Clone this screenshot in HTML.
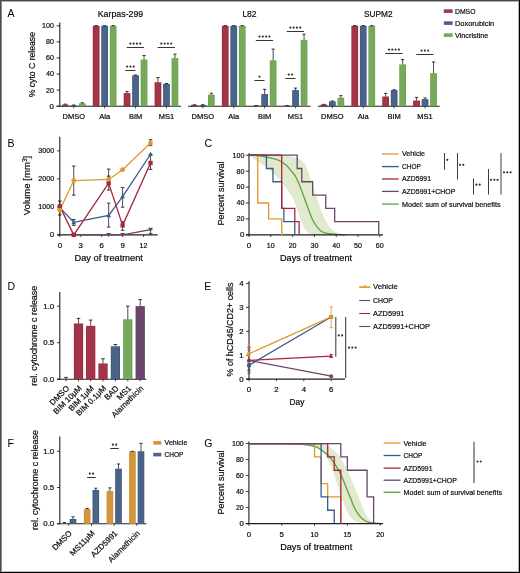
<!DOCTYPE html><html><head><meta charset="utf-8"><style>html,body{margin:0;padding:0;background:#fff;}svg{display:block;will-change:transform;}text{font-family:"Liberation Sans",sans-serif;stroke:#231f20;stroke-width:0.22px;}</style></head><body>
<svg width="520" height="573" viewBox="0 0 520 573">
<rect x="0" y="0" width="520" height="573" fill="#fff"/>
<text x="7.6" y="17.3" font-size="10.5" style="stroke:none">A</text>
<text x="7.6" y="147" font-size="10.5" style="stroke:none">B</text>
<text x="204.4" y="146.8" font-size="10.5" style="stroke:none">C</text>
<text x="7.6" y="289.5" font-size="10.5" style="stroke:none">D</text>
<text x="204.2" y="289.6" font-size="10.5" style="stroke:none">E</text>
<text x="7.6" y="446.6" font-size="10.5" style="stroke:none">F</text>
<text x="204.2" y="447" font-size="10.5" style="stroke:none">G</text>
<line x1="59.8" y1="22.6" x2="59.8" y2="106.7" stroke="#1e1e1e" stroke-width="1.1"/>
<line x1="56.6" y1="106.2" x2="59.8" y2="106.2" stroke="#1e1e1e" stroke-width="0.9"/>
<text x="53.9" y="108.6" font-size="7.8" text-anchor="end">0</text>
<line x1="56.6" y1="90.12" x2="59.8" y2="90.12" stroke="#1e1e1e" stroke-width="0.9"/>
<text x="53.9" y="92.52" font-size="7.8" text-anchor="end" textLength="7.9" lengthAdjust="spacingAndGlyphs">20</text>
<line x1="56.6" y1="74.04" x2="59.8" y2="74.04" stroke="#1e1e1e" stroke-width="0.9"/>
<text x="53.9" y="76.44" font-size="7.8" text-anchor="end" textLength="7.9" lengthAdjust="spacingAndGlyphs">40</text>
<line x1="56.6" y1="57.96" x2="59.8" y2="57.96" stroke="#1e1e1e" stroke-width="0.9"/>
<text x="53.9" y="60.36" font-size="7.8" text-anchor="end" textLength="7.9" lengthAdjust="spacingAndGlyphs">60</text>
<line x1="56.6" y1="41.88" x2="59.8" y2="41.88" stroke="#1e1e1e" stroke-width="0.9"/>
<text x="53.9" y="44.28" font-size="7.8" text-anchor="end" textLength="7.9" lengthAdjust="spacingAndGlyphs">80</text>
<line x1="56.6" y1="25.8" x2="59.8" y2="25.8" stroke="#1e1e1e" stroke-width="0.9"/>
<text x="53.9" y="28.2" font-size="7.8" text-anchor="end" textLength="11.85" lengthAdjust="spacingAndGlyphs">100</text>
<text x="34.6" y="64.65" font-size="9.5" text-anchor="middle" textLength="65.3" lengthAdjust="spacingAndGlyphs" transform="rotate(-90 34.6 64.65)">% cyto C release</text>
<line x1="56.6" y1="106.2" x2="181.1" y2="106.2" stroke="#1e1e1e" stroke-width="1.1"/>
<rect x="61.9" y="104.59" width="6.7" height="1.61" fill="#962036"/>
<rect x="62.5" y="105.19" width="5.5" height="1.01" fill="#a43447"/>
<line x1="65.25" y1="104.59" x2="65.25" y2="104.11" stroke="#1e1e1e" stroke-width="0.8"/>
<line x1="63.65" y1="104.11" x2="66.85" y2="104.11" stroke="#1e1e1e" stroke-width="0.9"/>
<rect x="70.4" y="105.4" width="6.7" height="0.8" fill="#3b557c"/>
<line x1="73.75" y1="105.4" x2="73.75" y2="104.99" stroke="#1e1e1e" stroke-width="0.8"/>
<line x1="72.15" y1="104.99" x2="75.35" y2="104.99" stroke="#1e1e1e" stroke-width="0.9"/>
<rect x="78.9" y="103.39" width="6.7" height="2.81" fill="#67a04a"/>
<rect x="79.5" y="103.99" width="5.5" height="2.21" fill="#78a85b"/>
<line x1="82.25" y1="103.39" x2="82.25" y2="102.82" stroke="#1e1e1e" stroke-width="0.8"/>
<line x1="80.65" y1="102.82" x2="83.85" y2="102.82" stroke="#1e1e1e" stroke-width="0.9"/>
<line x1="73.75" y1="106.2" x2="73.75" y2="108.4" stroke="#1e1e1e" stroke-width="0.8"/>
<text x="73.75" y="118.9" font-size="7.5" text-anchor="middle">DMSO</text>
<rect x="92.8" y="25.8" width="6.7" height="80.4" fill="#962036"/>
<rect x="93.4" y="26.4" width="5.5" height="79.8" fill="#a43447"/>
<line x1="96.15" y1="25.8" x2="96.15" y2="25.64" stroke="#1e1e1e" stroke-width="0.8"/>
<line x1="94.55" y1="25.64" x2="97.75" y2="25.64" stroke="#1e1e1e" stroke-width="0.9"/>
<rect x="101.3" y="25.8" width="6.7" height="80.4" fill="#3b557c"/>
<rect x="101.9" y="26.4" width="5.5" height="79.8" fill="#4a6386"/>
<line x1="104.65" y1="25.8" x2="104.65" y2="25.64" stroke="#1e1e1e" stroke-width="0.8"/>
<line x1="103.05" y1="25.64" x2="106.25" y2="25.64" stroke="#1e1e1e" stroke-width="0.9"/>
<rect x="109.8" y="25.8" width="6.7" height="80.4" fill="#67a04a"/>
<rect x="110.4" y="26.4" width="5.5" height="79.8" fill="#78a85b"/>
<line x1="113.15" y1="25.8" x2="113.15" y2="25.64" stroke="#1e1e1e" stroke-width="0.8"/>
<line x1="111.55" y1="25.64" x2="114.75" y2="25.64" stroke="#1e1e1e" stroke-width="0.9"/>
<line x1="104.65" y1="106.2" x2="104.65" y2="108.4" stroke="#1e1e1e" stroke-width="0.8"/>
<text x="104.65" y="118.9" font-size="7.5" text-anchor="middle">Ala</text>
<rect x="123.7" y="93.14" width="6.7" height="13.07" fill="#962036"/>
<rect x="124.3" y="93.73" width="5.5" height="12.47" fill="#a43447"/>
<line x1="127.05" y1="93.14" x2="127.05" y2="91.53" stroke="#1e1e1e" stroke-width="0.8"/>
<line x1="125.45" y1="91.53" x2="128.65" y2="91.53" stroke="#1e1e1e" stroke-width="0.9"/>
<rect x="132.2" y="75.33" width="6.7" height="30.87" fill="#3b557c"/>
<rect x="132.8" y="75.93" width="5.5" height="30.27" fill="#4a6386"/>
<line x1="135.55" y1="75.33" x2="135.55" y2="75" stroke="#1e1e1e" stroke-width="0.8"/>
<line x1="133.95" y1="75" x2="137.15" y2="75" stroke="#1e1e1e" stroke-width="0.9"/>
<rect x="140.7" y="59.57" width="6.7" height="46.63" fill="#67a04a"/>
<rect x="141.3" y="60.17" width="5.5" height="46.03" fill="#78a85b"/>
<line x1="144.05" y1="59.57" x2="144.05" y2="55.55" stroke="#1e1e1e" stroke-width="0.8"/>
<line x1="142.45" y1="55.55" x2="145.65" y2="55.55" stroke="#1e1e1e" stroke-width="0.9"/>
<line x1="135.55" y1="106.2" x2="135.55" y2="108.4" stroke="#1e1e1e" stroke-width="0.8"/>
<text x="135.55" y="118.9" font-size="7.5" text-anchor="middle">BIM</text>
<rect x="154.6" y="82.32" width="6.7" height="23.88" fill="#962036"/>
<rect x="155.2" y="82.92" width="5.5" height="23.28" fill="#a43447"/>
<line x1="157.95" y1="82.32" x2="157.95" y2="77.5" stroke="#1e1e1e" stroke-width="0.8"/>
<line x1="156.35" y1="77.5" x2="159.55" y2="77.5" stroke="#1e1e1e" stroke-width="0.9"/>
<rect x="163.1" y="83.85" width="6.7" height="22.35" fill="#3b557c"/>
<rect x="163.7" y="84.45" width="5.5" height="21.75" fill="#4a6386"/>
<line x1="166.45" y1="83.85" x2="166.45" y2="83.53" stroke="#1e1e1e" stroke-width="0.8"/>
<line x1="164.85" y1="83.53" x2="168.05" y2="83.53" stroke="#1e1e1e" stroke-width="0.9"/>
<rect x="171.6" y="58.2" width="6.7" height="48" fill="#67a04a"/>
<rect x="172.2" y="58.8" width="5.5" height="47.4" fill="#78a85b"/>
<line x1="174.95" y1="58.2" x2="174.95" y2="54.18" stroke="#1e1e1e" stroke-width="0.8"/>
<line x1="173.35" y1="54.18" x2="176.55" y2="54.18" stroke="#1e1e1e" stroke-width="0.9"/>
<line x1="166.45" y1="106.2" x2="166.45" y2="108.4" stroke="#1e1e1e" stroke-width="0.8"/>
<text x="166.45" y="118.9" font-size="7.5" text-anchor="middle">MS1</text>
<line x1="126.7" y1="47.5" x2="144" y2="47.5" stroke="#2a2a2a" stroke-width="0.95"/>
<circle cx="130.4" cy="43.6" r="1.1" fill="#333"/>
<circle cx="133.7" cy="43.6" r="1.1" fill="#333"/>
<circle cx="137" cy="43.6" r="1.1" fill="#333"/>
<circle cx="140.3" cy="43.6" r="1.1" fill="#333"/>
<line x1="125.3" y1="70.5" x2="135.5" y2="70.5" stroke="#2a2a2a" stroke-width="0.95"/>
<circle cx="127.1" cy="66.6" r="1.1" fill="#333"/>
<circle cx="130.4" cy="66.6" r="1.1" fill="#333"/>
<circle cx="133.7" cy="66.6" r="1.1" fill="#333"/>
<line x1="157.6" y1="47.5" x2="174.9" y2="47.5" stroke="#2a2a2a" stroke-width="0.95"/>
<circle cx="161.3" cy="43.6" r="1.1" fill="#333"/>
<circle cx="164.6" cy="43.6" r="1.1" fill="#333"/>
<circle cx="167.9" cy="43.6" r="1.1" fill="#333"/>
<circle cx="171.2" cy="43.6" r="1.1" fill="#333"/>
<text x="120.5" y="17.1" font-size="9.5" text-anchor="middle" textLength="45.5" lengthAdjust="spacingAndGlyphs">Karpas-299</text>
<line x1="188" y1="106.2" x2="310.5" y2="106.2" stroke="#1e1e1e" stroke-width="1.1"/>
<rect x="191" y="104.99" width="6.7" height="1.21" fill="#962036"/>
<rect x="191.6" y="105.59" width="5.5" height="0.61" fill="#a43447"/>
<line x1="194.35" y1="104.99" x2="194.35" y2="104.75" stroke="#1e1e1e" stroke-width="0.8"/>
<line x1="192.75" y1="104.75" x2="195.95" y2="104.75" stroke="#1e1e1e" stroke-width="0.9"/>
<rect x="199.5" y="104.99" width="6.7" height="1.21" fill="#3b557c"/>
<rect x="200.1" y="105.59" width="5.5" height="0.61" fill="#4a6386"/>
<line x1="202.85" y1="104.99" x2="202.85" y2="104.67" stroke="#1e1e1e" stroke-width="0.8"/>
<line x1="201.25" y1="104.67" x2="204.45" y2="104.67" stroke="#1e1e1e" stroke-width="0.9"/>
<rect x="208" y="94.62" width="6.7" height="11.58" fill="#67a04a"/>
<rect x="208.6" y="95.22" width="5.5" height="10.98" fill="#78a85b"/>
<line x1="211.35" y1="94.62" x2="211.35" y2="93.18" stroke="#1e1e1e" stroke-width="0.8"/>
<line x1="209.75" y1="93.18" x2="212.95" y2="93.18" stroke="#1e1e1e" stroke-width="0.9"/>
<line x1="202.85" y1="106.2" x2="202.85" y2="108.4" stroke="#1e1e1e" stroke-width="0.8"/>
<text x="202.85" y="118.9" font-size="7.5" text-anchor="middle">DMSO</text>
<rect x="221.9" y="25.8" width="6.7" height="80.4" fill="#962036"/>
<rect x="222.5" y="26.4" width="5.5" height="79.8" fill="#a43447"/>
<line x1="225.25" y1="25.8" x2="225.25" y2="25.64" stroke="#1e1e1e" stroke-width="0.8"/>
<line x1="223.65" y1="25.64" x2="226.85" y2="25.64" stroke="#1e1e1e" stroke-width="0.9"/>
<rect x="230.4" y="25.8" width="6.7" height="80.4" fill="#3b557c"/>
<rect x="231" y="26.4" width="5.5" height="79.8" fill="#4a6386"/>
<line x1="233.75" y1="25.8" x2="233.75" y2="25.64" stroke="#1e1e1e" stroke-width="0.8"/>
<line x1="232.15" y1="25.64" x2="235.35" y2="25.64" stroke="#1e1e1e" stroke-width="0.9"/>
<rect x="238.9" y="25.8" width="6.7" height="80.4" fill="#67a04a"/>
<rect x="239.5" y="26.4" width="5.5" height="79.8" fill="#78a85b"/>
<line x1="242.25" y1="25.8" x2="242.25" y2="25.64" stroke="#1e1e1e" stroke-width="0.8"/>
<line x1="240.65" y1="25.64" x2="243.85" y2="25.64" stroke="#1e1e1e" stroke-width="0.9"/>
<line x1="233.75" y1="106.2" x2="233.75" y2="108.4" stroke="#1e1e1e" stroke-width="0.8"/>
<text x="233.75" y="118.9" font-size="7.5" text-anchor="middle">Ala</text>
<rect x="252.8" y="105.72" width="6.7" height="0.48" fill="#962036"/>
<line x1="256.15" y1="105.72" x2="256.15" y2="105.56" stroke="#1e1e1e" stroke-width="0.8"/>
<line x1="254.55" y1="105.56" x2="257.75" y2="105.56" stroke="#1e1e1e" stroke-width="0.9"/>
<rect x="261.3" y="94.14" width="6.7" height="12.06" fill="#3b557c"/>
<rect x="261.9" y="94.74" width="5.5" height="11.46" fill="#4a6386"/>
<line x1="264.65" y1="94.14" x2="264.65" y2="89.32" stroke="#1e1e1e" stroke-width="0.8"/>
<line x1="263.05" y1="89.32" x2="266.25" y2="89.32" stroke="#1e1e1e" stroke-width="0.9"/>
<rect x="269.8" y="60.37" width="6.7" height="45.83" fill="#67a04a"/>
<rect x="270.4" y="60.97" width="5.5" height="45.23" fill="#78a85b"/>
<line x1="273.15" y1="60.37" x2="273.15" y2="49.12" stroke="#1e1e1e" stroke-width="0.8"/>
<line x1="271.55" y1="49.12" x2="274.75" y2="49.12" stroke="#1e1e1e" stroke-width="0.9"/>
<line x1="264.65" y1="106.2" x2="264.65" y2="108.4" stroke="#1e1e1e" stroke-width="0.8"/>
<text x="264.65" y="118.9" font-size="7.5" text-anchor="middle">BIM</text>
<rect x="283.7" y="105.72" width="6.7" height="0.48" fill="#962036"/>
<line x1="287.05" y1="105.72" x2="287.05" y2="105.56" stroke="#1e1e1e" stroke-width="0.8"/>
<line x1="285.45" y1="105.56" x2="288.65" y2="105.56" stroke="#1e1e1e" stroke-width="0.9"/>
<rect x="292.2" y="90.12" width="6.7" height="16.08" fill="#3b557c"/>
<rect x="292.8" y="90.72" width="5.5" height="15.48" fill="#4a6386"/>
<line x1="295.55" y1="90.12" x2="295.55" y2="88.11" stroke="#1e1e1e" stroke-width="0.8"/>
<line x1="293.95" y1="88.11" x2="297.15" y2="88.11" stroke="#1e1e1e" stroke-width="0.9"/>
<rect x="300.7" y="39.87" width="6.7" height="66.33" fill="#67a04a"/>
<rect x="301.3" y="40.47" width="5.5" height="65.73" fill="#78a85b"/>
<line x1="304.05" y1="39.87" x2="304.05" y2="34.24" stroke="#1e1e1e" stroke-width="0.8"/>
<line x1="302.45" y1="34.24" x2="305.65" y2="34.24" stroke="#1e1e1e" stroke-width="0.9"/>
<line x1="295.55" y1="106.2" x2="295.55" y2="108.4" stroke="#1e1e1e" stroke-width="0.8"/>
<text x="295.55" y="118.9" font-size="7.5" text-anchor="middle">MS1</text>
<line x1="255.8" y1="40.5" x2="273.1" y2="40.5" stroke="#2a2a2a" stroke-width="0.95"/>
<circle cx="259.5" cy="36.6" r="1.1" fill="#333"/>
<circle cx="262.8" cy="36.6" r="1.1" fill="#333"/>
<circle cx="266.1" cy="36.6" r="1.1" fill="#333"/>
<circle cx="269.4" cy="36.6" r="1.1" fill="#333"/>
<line x1="254.4" y1="80.5" x2="264.6" y2="80.5" stroke="#2a2a2a" stroke-width="0.95"/>
<circle cx="259.5" cy="76.6" r="1.1" fill="#333"/>
<line x1="286.7" y1="31.5" x2="304" y2="31.5" stroke="#2a2a2a" stroke-width="0.95"/>
<circle cx="290.4" cy="27.6" r="1.1" fill="#333"/>
<circle cx="293.7" cy="27.6" r="1.1" fill="#333"/>
<circle cx="297" cy="27.6" r="1.1" fill="#333"/>
<circle cx="300.3" cy="27.6" r="1.1" fill="#333"/>
<line x1="285.3" y1="78.5" x2="295.5" y2="78.5" stroke="#2a2a2a" stroke-width="0.95"/>
<circle cx="288.75" cy="74.6" r="1.1" fill="#333"/>
<circle cx="292.05" cy="74.6" r="1.1" fill="#333"/>
<text x="249.5" y="17.1" font-size="9.5" text-anchor="middle" textLength="14.25" lengthAdjust="spacingAndGlyphs">L82</text>
<line x1="318" y1="106.2" x2="439.7" y2="106.2" stroke="#1e1e1e" stroke-width="1.1"/>
<rect x="320.5" y="104.59" width="6.7" height="1.61" fill="#962036"/>
<rect x="321.1" y="105.19" width="5.5" height="1.01" fill="#a43447"/>
<line x1="323.85" y1="104.59" x2="323.85" y2="104.35" stroke="#1e1e1e" stroke-width="0.8"/>
<line x1="322.25" y1="104.35" x2="325.45" y2="104.35" stroke="#1e1e1e" stroke-width="0.9"/>
<rect x="329" y="101.38" width="6.7" height="4.82" fill="#3b557c"/>
<rect x="329.6" y="101.98" width="5.5" height="4.22" fill="#4a6386"/>
<line x1="332.35" y1="101.38" x2="332.35" y2="100.97" stroke="#1e1e1e" stroke-width="0.8"/>
<line x1="330.75" y1="100.97" x2="333.95" y2="100.97" stroke="#1e1e1e" stroke-width="0.9"/>
<rect x="337.5" y="97.68" width="6.7" height="8.52" fill="#67a04a"/>
<rect x="338.1" y="98.28" width="5.5" height="7.92" fill="#78a85b"/>
<line x1="340.85" y1="97.68" x2="340.85" y2="95.67" stroke="#1e1e1e" stroke-width="0.8"/>
<line x1="339.25" y1="95.67" x2="342.45" y2="95.67" stroke="#1e1e1e" stroke-width="0.9"/>
<line x1="332.35" y1="106.2" x2="332.35" y2="108.4" stroke="#1e1e1e" stroke-width="0.8"/>
<text x="332.35" y="118.9" font-size="7.5" text-anchor="middle">DMSO</text>
<rect x="351.4" y="25.8" width="6.7" height="80.4" fill="#962036"/>
<rect x="352" y="26.4" width="5.5" height="79.8" fill="#a43447"/>
<line x1="354.75" y1="25.8" x2="354.75" y2="25.64" stroke="#1e1e1e" stroke-width="0.8"/>
<line x1="353.15" y1="25.64" x2="356.35" y2="25.64" stroke="#1e1e1e" stroke-width="0.9"/>
<rect x="359.9" y="25.8" width="6.7" height="80.4" fill="#3b557c"/>
<rect x="360.5" y="26.4" width="5.5" height="79.8" fill="#4a6386"/>
<line x1="363.25" y1="25.8" x2="363.25" y2="25.64" stroke="#1e1e1e" stroke-width="0.8"/>
<line x1="361.65" y1="25.64" x2="364.85" y2="25.64" stroke="#1e1e1e" stroke-width="0.9"/>
<rect x="368.4" y="25.8" width="6.7" height="80.4" fill="#67a04a"/>
<rect x="369" y="26.4" width="5.5" height="79.8" fill="#78a85b"/>
<line x1="371.75" y1="25.8" x2="371.75" y2="25.64" stroke="#1e1e1e" stroke-width="0.8"/>
<line x1="370.15" y1="25.64" x2="373.35" y2="25.64" stroke="#1e1e1e" stroke-width="0.9"/>
<line x1="363.25" y1="106.2" x2="363.25" y2="108.4" stroke="#1e1e1e" stroke-width="0.8"/>
<text x="363.25" y="118.9" font-size="7.5" text-anchor="middle">Ala</text>
<rect x="382.3" y="96.55" width="6.7" height="9.65" fill="#962036"/>
<rect x="382.9" y="97.15" width="5.5" height="9.05" fill="#a43447"/>
<line x1="385.65" y1="96.55" x2="385.65" y2="93.34" stroke="#1e1e1e" stroke-width="0.8"/>
<line x1="384.05" y1="93.34" x2="387.25" y2="93.34" stroke="#1e1e1e" stroke-width="0.9"/>
<rect x="390.8" y="90.12" width="6.7" height="16.08" fill="#3b557c"/>
<rect x="391.4" y="90.72" width="5.5" height="15.48" fill="#4a6386"/>
<line x1="394.15" y1="90.12" x2="394.15" y2="89.8" stroke="#1e1e1e" stroke-width="0.8"/>
<line x1="392.55" y1="89.8" x2="395.75" y2="89.8" stroke="#1e1e1e" stroke-width="0.9"/>
<rect x="399.3" y="64.39" width="6.7" height="41.81" fill="#67a04a"/>
<rect x="399.9" y="64.99" width="5.5" height="41.21" fill="#78a85b"/>
<line x1="402.65" y1="64.39" x2="402.65" y2="59.57" stroke="#1e1e1e" stroke-width="0.8"/>
<line x1="401.05" y1="59.57" x2="404.25" y2="59.57" stroke="#1e1e1e" stroke-width="0.9"/>
<line x1="394.15" y1="106.2" x2="394.15" y2="108.4" stroke="#1e1e1e" stroke-width="0.8"/>
<text x="394.15" y="118.9" font-size="7.5" text-anchor="middle">BIM</text>
<rect x="413.2" y="100.57" width="6.7" height="5.63" fill="#962036"/>
<rect x="413.8" y="101.17" width="5.5" height="5.03" fill="#a43447"/>
<line x1="416.55" y1="100.57" x2="416.55" y2="97.36" stroke="#1e1e1e" stroke-width="0.8"/>
<line x1="414.95" y1="97.36" x2="418.15" y2="97.36" stroke="#1e1e1e" stroke-width="0.9"/>
<rect x="421.7" y="99.17" width="6.7" height="7.04" fill="#3b557c"/>
<rect x="422.3" y="99.77" width="5.5" height="6.44" fill="#4a6386"/>
<line x1="425.05" y1="99.17" x2="425.05" y2="97.96" stroke="#1e1e1e" stroke-width="0.8"/>
<line x1="423.45" y1="97.96" x2="426.65" y2="97.96" stroke="#1e1e1e" stroke-width="0.9"/>
<rect x="430.2" y="73.24" width="6.7" height="32.96" fill="#67a04a"/>
<rect x="430.8" y="73.84" width="5.5" height="32.36" fill="#78a85b"/>
<line x1="433.55" y1="73.24" x2="433.55" y2="61.98" stroke="#1e1e1e" stroke-width="0.8"/>
<line x1="431.95" y1="61.98" x2="435.15" y2="61.98" stroke="#1e1e1e" stroke-width="0.9"/>
<line x1="425.05" y1="106.2" x2="425.05" y2="108.4" stroke="#1e1e1e" stroke-width="0.8"/>
<text x="425.05" y="118.9" font-size="7.5" text-anchor="middle">MS1</text>
<line x1="385.3" y1="53.5" x2="402.6" y2="53.5" stroke="#2a2a2a" stroke-width="0.95"/>
<circle cx="389" cy="49.6" r="1.1" fill="#333"/>
<circle cx="392.3" cy="49.6" r="1.1" fill="#333"/>
<circle cx="395.6" cy="49.6" r="1.1" fill="#333"/>
<circle cx="398.9" cy="49.6" r="1.1" fill="#333"/>
<line x1="416.2" y1="54.5" x2="433.5" y2="54.5" stroke="#2a2a2a" stroke-width="0.95"/>
<circle cx="421.55" cy="50.6" r="1.1" fill="#333"/>
<circle cx="424.85" cy="50.6" r="1.1" fill="#333"/>
<circle cx="428.15" cy="50.6" r="1.1" fill="#333"/>
<text x="378.25" y="17.1" font-size="9.5" text-anchor="middle" textLength="28.5" lengthAdjust="spacingAndGlyphs">SUPM2</text>
<rect x="443.8" y="9.3" width="8.8" height="3.6" fill="#a43447"/>
<text x="455" y="13.9" font-size="7.8" textLength="20.5" lengthAdjust="spacingAndGlyphs">DMSO</text>
<rect x="443.8" y="21.3" width="8.8" height="3.6" fill="#4a6386"/>
<text x="455" y="25.9" font-size="7.8" textLength="39.2" lengthAdjust="spacingAndGlyphs">Doxorubicin</text>
<rect x="443.8" y="33.3" width="8.8" height="3.6" fill="#78a85b"/>
<text x="455" y="37.9" font-size="7.8" textLength="33.4" lengthAdjust="spacingAndGlyphs">Vincristine</text>
<line x1="59.8" y1="136.7" x2="59.8" y2="235.4" stroke="#1e1e1e" stroke-width="1.1"/>
<line x1="57.2" y1="234.9" x2="157.6" y2="234.9" stroke="#1e1e1e" stroke-width="1.1"/>
<line x1="57.2" y1="234.9" x2="59.8" y2="234.9" stroke="#1e1e1e" stroke-width="0.9"/>
<text x="54.1" y="237.3" font-size="7.8" text-anchor="end">0</text>
<line x1="57.2" y1="206.9" x2="59.8" y2="206.9" stroke="#1e1e1e" stroke-width="0.9"/>
<text x="54.1" y="209.3" font-size="7.8" text-anchor="end" textLength="15.8" lengthAdjust="spacingAndGlyphs">1000</text>
<line x1="57.2" y1="178.9" x2="59.8" y2="178.9" stroke="#1e1e1e" stroke-width="0.9"/>
<text x="54.1" y="181.3" font-size="7.8" text-anchor="end" textLength="15.8" lengthAdjust="spacingAndGlyphs">2000</text>
<line x1="57.2" y1="150.9" x2="59.8" y2="150.9" stroke="#1e1e1e" stroke-width="0.9"/>
<text x="54.1" y="153.3" font-size="7.8" text-anchor="end" textLength="15.8" lengthAdjust="spacingAndGlyphs">3000</text>
<line x1="59.8" y1="234.9" x2="59.8" y2="237.1" stroke="#1e1e1e" stroke-width="0.8"/>
<text x="59.8" y="247.6" font-size="7.8" text-anchor="middle">0</text>
<line x1="80.74" y1="234.9" x2="80.74" y2="237.1" stroke="#1e1e1e" stroke-width="0.8"/>
<text x="80.74" y="247.6" font-size="7.8" text-anchor="middle">3</text>
<line x1="101.68" y1="234.9" x2="101.68" y2="237.1" stroke="#1e1e1e" stroke-width="0.8"/>
<text x="101.68" y="247.6" font-size="7.8" text-anchor="middle">6</text>
<line x1="122.62" y1="234.9" x2="122.62" y2="237.1" stroke="#1e1e1e" stroke-width="0.8"/>
<text x="122.62" y="247.6" font-size="7.8" text-anchor="middle">9</text>
<line x1="143.56" y1="234.9" x2="143.56" y2="237.1" stroke="#1e1e1e" stroke-width="0.8"/>
<text x="143.56" y="247.6" font-size="7.8" text-anchor="middle" textLength="7.9" lengthAdjust="spacingAndGlyphs">12</text>
<text x="108.7" y="261.3" font-size="9" text-anchor="middle" textLength="68.5" lengthAdjust="spacingAndGlyphs">Day of treatment</text>
<text x="30.3" y="185.5" font-size="9.5" text-anchor="middle" transform="rotate(-90 30.3 185.5)" textLength="59.6" lengthAdjust="spacingAndGlyphs" >Volume [mm<tspan font-size="6.5" dy="-3.6">3</tspan><tspan dy="3.6">]</tspan></text>
<line x1="150.54" y1="229.58" x2="150.54" y2="233.64" stroke="#222" stroke-width="0.8"/>
<line x1="148.74" y1="229.58" x2="152.34" y2="229.58" stroke="#222" stroke-width="0.9"/>
<line x1="148.74" y1="233.64" x2="152.34" y2="233.64" stroke="#222" stroke-width="0.9"/>
<line x1="73.76" y1="219.5" x2="73.76" y2="225.38" stroke="#222" stroke-width="0.8"/>
<line x1="71.96" y1="219.5" x2="75.56" y2="219.5" stroke="#222" stroke-width="0.9"/>
<line x1="71.96" y1="225.38" x2="75.56" y2="225.38" stroke="#222" stroke-width="0.9"/>
<line x1="108.66" y1="203.12" x2="108.66" y2="227.06" stroke="#222" stroke-width="0.8"/>
<line x1="106.86" y1="203.12" x2="110.46" y2="203.12" stroke="#222" stroke-width="0.9"/>
<line x1="106.86" y1="227.06" x2="110.46" y2="227.06" stroke="#222" stroke-width="0.9"/>
<line x1="122.62" y1="187.58" x2="122.62" y2="207.18" stroke="#222" stroke-width="0.8"/>
<line x1="120.82" y1="187.58" x2="124.42" y2="187.58" stroke="#222" stroke-width="0.9"/>
<line x1="120.82" y1="207.18" x2="124.42" y2="207.18" stroke="#222" stroke-width="0.9"/>
<line x1="108.66" y1="176.1" x2="108.66" y2="190.1" stroke="#222" stroke-width="0.8"/>
<line x1="106.86" y1="176.1" x2="110.46" y2="176.1" stroke="#222" stroke-width="0.9"/>
<line x1="106.86" y1="190.1" x2="110.46" y2="190.1" stroke="#222" stroke-width="0.9"/>
<line x1="122.62" y1="221.74" x2="122.62" y2="230.28" stroke="#222" stroke-width="0.8"/>
<line x1="120.82" y1="221.74" x2="124.42" y2="221.74" stroke="#222" stroke-width="0.9"/>
<line x1="120.82" y1="230.28" x2="124.42" y2="230.28" stroke="#222" stroke-width="0.9"/>
<line x1="150.54" y1="154.26" x2="150.54" y2="169.38" stroke="#222" stroke-width="0.8"/>
<line x1="148.74" y1="154.26" x2="152.34" y2="154.26" stroke="#222" stroke-width="0.9"/>
<line x1="148.74" y1="169.38" x2="152.34" y2="169.38" stroke="#222" stroke-width="0.9"/>
<line x1="73.76" y1="166.02" x2="73.76" y2="195.14" stroke="#222" stroke-width="0.8"/>
<line x1="71.96" y1="166.02" x2="75.56" y2="166.02" stroke="#222" stroke-width="0.9"/>
<line x1="71.96" y1="195.14" x2="75.56" y2="195.14" stroke="#222" stroke-width="0.9"/>
<line x1="108.66" y1="169.1" x2="108.66" y2="179.46" stroke="#222" stroke-width="0.8"/>
<line x1="106.86" y1="169.1" x2="110.46" y2="169.1" stroke="#222" stroke-width="0.9"/>
<line x1="106.86" y1="179.46" x2="110.46" y2="179.46" stroke="#222" stroke-width="0.9"/>
<line x1="150.54" y1="139.7" x2="150.54" y2="145.58" stroke="#222" stroke-width="0.8"/>
<line x1="148.74" y1="139.7" x2="152.34" y2="139.7" stroke="#222" stroke-width="0.9"/>
<line x1="148.74" y1="145.58" x2="152.34" y2="145.58" stroke="#222" stroke-width="0.9"/>
<line x1="59.8" y1="201.02" x2="59.8" y2="215.02" stroke="#222" stroke-width="0.8"/>
<line x1="58" y1="201.02" x2="61.6" y2="201.02" stroke="#222" stroke-width="0.9"/>
<line x1="58" y1="215.02" x2="61.6" y2="215.02" stroke="#222" stroke-width="0.9"/>
<polyline points="73.76,234.9 108.66,234.9 122.62,234.9 150.54,229.58" fill="none" stroke="#6b4569" stroke-width="1.3" stroke-linejoin="miter"/>
<polyline points="59.8,207.6 73.76,222.3 108.66,215.3 122.62,196.54 150.54,154.26" fill="none" stroke="#3a5a8a" stroke-width="1.3" stroke-linejoin="miter"/>
<polyline points="59.8,206.34 73.76,234.9 108.66,183.1 122.62,225.38 150.54,162.94" fill="none" stroke="#a8253c" stroke-width="1.3" stroke-linejoin="miter"/>
<polyline points="59.8,210.12 73.76,180.58 108.66,179.46 122.62,169.66 150.54,143.06" fill="none" stroke="#e0982c" stroke-width="1.3" stroke-linejoin="miter"/>
<polygon points="73.76,237.37 76.12,233.07 71.39,233.07" fill="#6b4569"/>
<polygon points="108.66,237.37 111.02,233.07 106.3,233.07" fill="#6b4569"/>
<polygon points="122.62,237.37 124.98,233.07 120.26,233.07" fill="#6b4569"/>
<polygon points="150.54,232.05 152.91,227.75 148.18,227.75" fill="#6b4569"/>
<polygon points="59.8,205.13 62.16,209.43 57.43,209.43" fill="#3a5a8a"/>
<polygon points="73.76,219.83 76.12,224.13 71.39,224.13" fill="#3a5a8a"/>
<polygon points="108.66,212.83 111.02,217.13 106.3,217.13" fill="#3a5a8a"/>
<polygon points="122.62,194.07 124.98,198.37 120.26,198.37" fill="#3a5a8a"/>
<polygon points="150.54,151.79 152.91,156.09 148.18,156.09" fill="#3a5a8a"/>
<rect x="57.65" y="204.19" width="4.3" height="4.3" fill="#a8253c"/>
<rect x="71.61" y="232.75" width="4.3" height="4.3" fill="#a8253c"/>
<rect x="106.51" y="180.95" width="4.3" height="4.3" fill="#a8253c"/>
<rect x="120.47" y="223.23" width="4.3" height="4.3" fill="#a8253c"/>
<rect x="148.39" y="160.79" width="4.3" height="4.3" fill="#a8253c"/>
<circle cx="59.8" cy="210.12" r="2.4" fill="#e0982c"/>
<circle cx="73.76" cy="180.58" r="2.4" fill="#e0982c"/>
<circle cx="108.66" cy="179.46" r="2.4" fill="#e0982c"/>
<circle cx="122.62" cy="169.66" r="2.4" fill="#e0982c"/>
<circle cx="150.54" cy="143.06" r="2.4" fill="#e0982c"/>
<polygon points="249,155.2 249.87,155.2 250.73,155.2 251.6,155.2 252.46,155.2 253.33,155.2 254.19,155.2 255.06,155.2 255.92,155.2 256.79,155.2 257.66,155.21 258.52,155.21 259.39,155.21 260.25,155.21 261.12,155.21 261.98,155.21 262.85,155.22 263.71,155.22 264.58,155.22 265.45,155.22 266.31,155.23 267.18,155.23 268.04,155.23 268.91,155.24 269.77,155.24 270.64,155.24 271.5,155.25 272.37,155.25 273.24,155.26 274.1,155.26 274.97,155.27 275.83,155.27 276.7,155.28 277.56,155.28 278.43,155.29 279.29,155.29 280.16,155.3 281.03,155.32 281.89,155.36 282.76,155.42 283.62,155.49 284.49,155.57 285.35,155.67 286.22,155.77 287.08,155.89 287.95,156.01 288.82,156.13 289.68,156.25 290.55,156.38 291.41,156.53 292.28,156.7 293.14,156.9 294.01,157.11 294.87,157.34 295.74,157.6 296.61,157.87 297.47,158.17 298.34,158.51 299.2,158.92 300.07,159.39 300.93,159.95 301.8,160.65 302.66,161.53 303.53,162.58 304.39,163.78 305.26,165.11 306.13,166.66 306.99,168.61 307.86,170.81 308.72,173.1 309.59,175.6 310.45,178.27 311.32,180.95 312.18,183.55 313.05,186.15 313.92,188.75 314.78,191.34 315.65,193.94 316.51,196.54 317.38,199.13 318.24,201.77 319.11,204.44 319.97,207.02 320.84,209.42 321.71,211.69 322.57,213.84 323.44,215.86 324.3,217.79 325.17,219.66 326.03,221.41 326.9,223 327.76,224.41 328.63,225.76 329.5,227.03 330.36,228.15 331.23,229.09 332.09,229.81 332.96,230.44 333.82,231.01 334.69,231.52 335.55,231.99 336.42,232.4 337.29,232.76 338.15,233.08 339.02,233.37 339.88,233.63 340.75,233.88 341.61,234.1 342.48,234.29 343.34,234.43 344.21,234.52 345.08,234.59 345.94,234.65 346.81,234.71 347.67,234.77 348.54,234.81 349.4,234.85 350.27,234.88 351.13,234.89 352,234.9 315,234.9 314.45,234.88 313.89,234.83 313.34,234.75 312.78,234.64 312.23,234.5 311.67,234.35 311.12,234.18 310.56,234 310.01,233.8 309.45,233.56 308.9,233.24 308.34,232.83 307.79,232.36 307.24,231.84 306.68,231.26 306.13,230.64 305.57,229.95 305.02,229.1 304.46,228.11 303.91,227.02 303.35,225.86 302.8,224.66 302.24,223.42 301.69,222.05 301.13,220.58 300.58,219.03 300.03,217.46 299.47,215.92 298.92,214.35 298.36,212.74 297.81,211.12 297.25,209.53 296.7,208.02 296.14,206.58 295.59,205.16 295.03,203.77 294.48,202.4 293.92,201.09 293.37,199.82 292.82,198.62 292.26,197.5 291.71,196.46 291.15,195.47 290.6,194.53 290.04,193.63 289.49,192.76 288.93,191.93 288.38,191.12 287.82,190.33 287.27,189.56 286.71,188.79 286.16,188.04 285.61,187.29 285.05,186.56 284.5,185.83 283.94,185.12 283.39,184.42 282.83,183.73 282.28,183.04 281.72,182.37 281.17,181.71 280.61,181.07 280.06,180.43 279.5,179.8 278.95,179.18 278.39,178.58 277.84,177.98 277.29,177.4 276.73,176.83 276.18,176.27 275.62,175.72 275.07,175.17 274.51,174.64 273.96,174.11 273.4,173.59 272.85,173.08 272.29,172.58 271.74,172.09 271.18,171.6 270.63,171.12 270.08,170.65 269.52,170.18 268.97,169.73 268.41,169.27 267.86,168.82 267.3,168.38 266.75,167.95 266.19,167.52 265.64,167.1 265.08,166.7 264.53,166.29 263.97,165.9 263.42,165.51 262.87,165.12 262.31,164.74 261.76,164.36 261.2,163.98 260.65,163.61 260.09,163.23 259.54,162.85 258.98,162.47 258.43,162.08 257.87,161.69 257.32,161.3 256.76,160.91 256.21,160.52 255.66,160.14 255.1,159.75 254.55,159.36 253.99,158.98 253.44,158.58 252.88,158.19 252.33,157.79 251.77,157.38 251.22,156.97 250.66,156.54 250.11,156.1 249.55,155.65 249,155.2" fill="#e1eacf"/>
<polyline points="249,155.2 249.81,155.2 250.61,155.22 251.42,155.24 252.23,155.26 253.03,155.3 253.84,155.34 254.65,155.38 255.45,155.43 256.26,155.48 257.07,155.53 257.87,155.59 258.68,155.66 259.49,155.75 260.29,155.87 261.1,156 261.91,156.15 262.71,156.32 263.52,156.49 264.33,156.67 265.13,156.85 265.94,157.03 266.75,157.2 267.55,157.37 268.36,157.54 269.17,157.7 269.97,157.86 270.78,158.03 271.59,158.2 272.39,158.38 273.2,158.57 274.01,158.77 274.82,158.99 275.62,159.22 276.43,159.48 277.24,159.75 278.04,160.07 278.85,160.42 279.66,160.81 280.46,161.23 281.27,161.69 282.08,162.18 282.88,162.7 283.69,163.25 284.5,163.83 285.3,164.44 286.11,165.08 286.92,165.77 287.72,166.59 288.53,167.54 289.34,168.57 290.14,169.63 290.95,170.69 291.76,171.71 292.56,172.64 293.37,173.5 294.18,174.41 294.98,175.48 295.79,176.82 296.6,178.42 297.4,180.17 298.21,181.97 299.02,183.9 299.82,185.95 300.63,188.04 301.44,190.13 302.24,192.26 303.05,194.41 303.86,196.61 304.66,198.86 305.47,201.17 306.28,203.48 307.08,205.73 307.89,207.94 308.7,210.13 309.5,212.24 310.31,214.28 311.12,216.29 311.92,218.22 312.73,219.97 313.54,221.5 314.34,222.92 315.15,224.25 315.96,225.48 316.76,226.59 317.57,227.58 318.38,228.52 319.18,229.41 319.99,230.23 320.8,230.94 321.61,231.49 322.41,231.89 323.22,232.22 324.03,232.52 324.83,232.78 325.64,233.01 326.45,233.2 327.25,233.37 328.06,233.51 328.87,233.63 329.67,233.74 330.48,233.84 331.29,233.93 332.09,234.01 332.9,234.08 333.71,234.15 334.51,234.22 335.32,234.29 336.13,234.35 336.93,234.41 337.74,234.47 338.55,234.53 339.35,234.59 340.16,234.64 340.97,234.69 341.77,234.74 342.58,234.79 343.39,234.83 344.19,234.87 345,234.9" fill="none" stroke="#5aa03c" stroke-width="1.3" stroke-linejoin="miter"/>
<line x1="249" y1="153.3" x2="249" y2="235.4" stroke="#1e1e1e" stroke-width="1.1"/>
<line x1="246" y1="234.9" x2="383" y2="234.9" stroke="#1e1e1e" stroke-width="1.1"/>
<line x1="245.8" y1="234.9" x2="249" y2="234.9" stroke="#1e1e1e" stroke-width="0.9"/>
<text x="244.4" y="237.3" font-size="7.8" text-anchor="end">0</text>
<line x1="245.8" y1="218.96" x2="249" y2="218.96" stroke="#1e1e1e" stroke-width="0.9"/>
<text x="244.4" y="221.36" font-size="7.8" text-anchor="end" textLength="7.9" lengthAdjust="spacingAndGlyphs">20</text>
<line x1="245.8" y1="203.02" x2="249" y2="203.02" stroke="#1e1e1e" stroke-width="0.9"/>
<text x="244.4" y="205.42" font-size="7.8" text-anchor="end" textLength="7.9" lengthAdjust="spacingAndGlyphs">40</text>
<line x1="245.8" y1="187.08" x2="249" y2="187.08" stroke="#1e1e1e" stroke-width="0.9"/>
<text x="244.4" y="189.48" font-size="7.8" text-anchor="end" textLength="7.9" lengthAdjust="spacingAndGlyphs">60</text>
<line x1="245.8" y1="171.14" x2="249" y2="171.14" stroke="#1e1e1e" stroke-width="0.9"/>
<text x="244.4" y="173.54" font-size="7.8" text-anchor="end" textLength="7.9" lengthAdjust="spacingAndGlyphs">80</text>
<line x1="245.8" y1="155.2" x2="249" y2="155.2" stroke="#1e1e1e" stroke-width="0.9"/>
<text x="244.4" y="157.6" font-size="7.8" text-anchor="end" textLength="11.85" lengthAdjust="spacingAndGlyphs">100</text>
<line x1="249" y1="234.9" x2="249" y2="237.1" stroke="#1e1e1e" stroke-width="0.8"/>
<text x="249" y="248" font-size="7.8" text-anchor="middle">0</text>
<line x1="270.8" y1="234.9" x2="270.8" y2="237.1" stroke="#1e1e1e" stroke-width="0.8"/>
<text x="270.8" y="248" font-size="7.8" text-anchor="middle" textLength="7.9" lengthAdjust="spacingAndGlyphs">10</text>
<line x1="292.6" y1="234.9" x2="292.6" y2="237.1" stroke="#1e1e1e" stroke-width="0.8"/>
<text x="292.6" y="248" font-size="7.8" text-anchor="middle" textLength="7.9" lengthAdjust="spacingAndGlyphs">20</text>
<line x1="314.4" y1="234.9" x2="314.4" y2="237.1" stroke="#1e1e1e" stroke-width="0.8"/>
<text x="314.4" y="248" font-size="7.8" text-anchor="middle" textLength="7.9" lengthAdjust="spacingAndGlyphs">30</text>
<line x1="336.2" y1="234.9" x2="336.2" y2="237.1" stroke="#1e1e1e" stroke-width="0.8"/>
<text x="336.2" y="248" font-size="7.8" text-anchor="middle" textLength="7.9" lengthAdjust="spacingAndGlyphs">40</text>
<line x1="358" y1="234.9" x2="358" y2="237.1" stroke="#1e1e1e" stroke-width="0.8"/>
<text x="358" y="248" font-size="7.8" text-anchor="middle" textLength="7.9" lengthAdjust="spacingAndGlyphs">50</text>
<line x1="379.8" y1="234.9" x2="379.8" y2="237.1" stroke="#1e1e1e" stroke-width="0.8"/>
<text x="379.8" y="248" font-size="7.8" text-anchor="middle" textLength="7.9" lengthAdjust="spacingAndGlyphs">60</text>
<text x="316" y="261" font-size="9" text-anchor="middle" textLength="72" lengthAdjust="spacingAndGlyphs">Days of treatment</text>
<text x="224" y="193.6" font-size="9" text-anchor="middle" textLength="64" lengthAdjust="spacingAndGlyphs" transform="rotate(-90 224 193.6)">Percent survival</text>
<polyline points="249,155.2 257.72,155.2 257.72,203.02 268.62,203.02 268.62,218.96 281.7,218.96 281.7,234.9" fill="none" stroke="#e0982c" stroke-width="1.3" stroke-linejoin="miter"/>
<polyline points="249,155.2 266.44,155.2 266.44,168.51 272.98,168.51 272.98,181.74 281.7,181.74 281.7,208.36 283.88,208.36 283.88,221.59 294.78,221.59 294.78,234.9" fill="none" stroke="#3a5a8a" stroke-width="1.3" stroke-linejoin="miter"/>
<polyline points="249,155.2 281.7,155.2 281.7,208.36 294.78,208.36 294.78,221.59 299.14,221.59 299.14,234.9" fill="none" stroke="#a8253c" stroke-width="1.3" stroke-linejoin="miter"/>
<polyline points="249,155.2 297.18,155.2 297.18,168.51 301.76,168.51 301.76,181.74 312.66,181.74 312.66,195.05 325.74,195.05 325.74,208.36 334.67,208.36 334.67,221.59 378.71,221.59 378.71,234.9" fill="none" stroke="#6b4569" stroke-width="1.3" stroke-linejoin="miter"/>
<line x1="382" y1="154" x2="398.7" y2="154" stroke="#e0982c" stroke-width="1.3"/>
<text x="402" y="156.45" font-size="7.9" textLength="23" lengthAdjust="spacingAndGlyphs">Vehicle</text>
<line x1="382" y1="166.6" x2="398.7" y2="166.6" stroke="#3a5a8a" stroke-width="1.3"/>
<text x="402" y="169.05" font-size="7.9" textLength="18.8" lengthAdjust="spacingAndGlyphs">CHOP</text>
<line x1="382" y1="179" x2="398.7" y2="179" stroke="#a8253c" stroke-width="1.3"/>
<text x="402" y="181.45" font-size="7.9" textLength="29" lengthAdjust="spacingAndGlyphs">AZD5991</text>
<line x1="382" y1="191.4" x2="398.7" y2="191.4" stroke="#6b4569" stroke-width="1.3"/>
<text x="402" y="193.85" font-size="7.9" textLength="53.3" lengthAdjust="spacingAndGlyphs">AZD5991+CHOP</text>
<line x1="382" y1="204.1" x2="398.7" y2="204.1" stroke="#5aa03c" stroke-width="1.3"/>
<text x="402" y="206.55" font-size="7.9" textLength="98.5" lengthAdjust="spacingAndGlyphs">Model: sum of survival benefits</text>
<line x1="444.5" y1="153.1" x2="444.5" y2="169.7" stroke="#3a3a3a" stroke-width="1.0"/>
<circle cx="447.3" cy="159.8" r="1.1" fill="#333"/>
<line x1="457.5" y1="153.1" x2="457.5" y2="179.5" stroke="#3a3a3a" stroke-width="1.0"/>
<circle cx="460" cy="164.8" r="1.1" fill="#333"/>
<circle cx="463.3" cy="164.8" r="1.1" fill="#333"/>
<line x1="473.5" y1="178.5" x2="473.5" y2="194.5" stroke="#3a3a3a" stroke-width="1.0"/>
<circle cx="476.4" cy="184.7" r="1.1" fill="#333"/>
<circle cx="479.7" cy="184.7" r="1.1" fill="#333"/>
<line x1="488.5" y1="169" x2="488.5" y2="194.5" stroke="#3a3a3a" stroke-width="1.0"/>
<circle cx="491" cy="179.8" r="1.1" fill="#333"/>
<circle cx="494.3" cy="179.8" r="1.1" fill="#333"/>
<circle cx="497.6" cy="179.8" r="1.1" fill="#333"/>
<line x1="501" y1="153.1" x2="501" y2="194.5" stroke="#3a3a3a" stroke-width="1.0"/>
<circle cx="504" cy="172.3" r="1.1" fill="#333"/>
<circle cx="507.3" cy="172.3" r="1.1" fill="#333"/>
<circle cx="510.6" cy="172.3" r="1.1" fill="#333"/>
<line x1="59.8" y1="291.9" x2="59.8" y2="379.7" stroke="#1e1e1e" stroke-width="1.1"/>
<line x1="57" y1="379.2" x2="146.3" y2="379.2" stroke="#1e1e1e" stroke-width="1.1"/>
<line x1="57" y1="379.2" x2="59.8" y2="379.2" stroke="#1e1e1e" stroke-width="0.9"/>
<text x="54.2" y="381.6" font-size="7.8" text-anchor="end">0.0</text>
<line x1="57" y1="342.7" x2="59.8" y2="342.7" stroke="#1e1e1e" stroke-width="0.9"/>
<text x="54.2" y="345.1" font-size="7.8" text-anchor="end">0.5</text>
<line x1="57" y1="306.2" x2="59.8" y2="306.2" stroke="#1e1e1e" stroke-width="0.9"/>
<text x="54.2" y="308.6" font-size="7.8" text-anchor="end">1.0</text>
<text x="37.5" y="335.7" font-size="9" text-anchor="middle" textLength="100" lengthAdjust="spacingAndGlyphs" transform="rotate(-90 37.5 335.7)">rel. cytochrome c release</text>
<line x1="66" y1="379.2" x2="66" y2="377.38" stroke="#1e1e1e" stroke-width="0.8"/>
<line x1="64.2" y1="377.38" x2="67.8" y2="377.38" stroke="#1e1e1e" stroke-width="0.9"/>
<line x1="66" y1="379.2" x2="66" y2="381.4" stroke="#1e1e1e" stroke-width="0.8"/>
<text x="69.8" y="388.8" font-size="8" text-anchor="end" transform="rotate(-45 69.8 388.8)">DMSO</text>
<rect x="73.9" y="323.5" width="9.2" height="55.7" fill="#962036"/>
<rect x="74.5" y="324.1" width="8" height="55.1" fill="#a43447"/>
<line x1="78.5" y1="323.5" x2="78.5" y2="318.39" stroke="#1e1e1e" stroke-width="0.8"/>
<line x1="76.7" y1="318.39" x2="80.3" y2="318.39" stroke="#1e1e1e" stroke-width="0.9"/>
<line x1="78.5" y1="379.2" x2="78.5" y2="381.4" stroke="#1e1e1e" stroke-width="0.8"/>
<text x="82.3" y="388.8" font-size="8" text-anchor="end" transform="rotate(-45 82.3 388.8)">BIM 10μM</text>
<rect x="86.1" y="325.91" width="9.2" height="53.29" fill="#962036"/>
<rect x="86.7" y="326.51" width="8" height="52.69" fill="#a43447"/>
<line x1="90.7" y1="325.91" x2="90.7" y2="320.07" stroke="#1e1e1e" stroke-width="0.8"/>
<line x1="88.9" y1="320.07" x2="92.5" y2="320.07" stroke="#1e1e1e" stroke-width="0.9"/>
<line x1="90.7" y1="379.2" x2="90.7" y2="381.4" stroke="#1e1e1e" stroke-width="0.8"/>
<text x="94.5" y="388.8" font-size="8" text-anchor="end" transform="rotate(-45 94.5 388.8)">BIM 1μM</text>
<rect x="98.4" y="363.5" width="9.2" height="15.7" fill="#962036"/>
<rect x="99" y="364.11" width="8" height="15.1" fill="#a43447"/>
<line x1="103" y1="363.5" x2="103" y2="358.76" stroke="#1e1e1e" stroke-width="0.8"/>
<line x1="101.2" y1="358.76" x2="104.8" y2="358.76" stroke="#1e1e1e" stroke-width="0.9"/>
<line x1="103" y1="379.2" x2="103" y2="381.4" stroke="#1e1e1e" stroke-width="0.8"/>
<text x="106.8" y="388.8" font-size="8" text-anchor="end" transform="rotate(-45 106.8 388.8)">BIM 0.1μM</text>
<rect x="110.8" y="346.35" width="9.2" height="32.85" fill="#3b557c"/>
<rect x="111.4" y="346.95" width="8" height="32.25" fill="#4a6386"/>
<line x1="115.4" y1="346.35" x2="115.4" y2="344.52" stroke="#1e1e1e" stroke-width="0.8"/>
<line x1="113.6" y1="344.52" x2="117.2" y2="344.52" stroke="#1e1e1e" stroke-width="0.9"/>
<line x1="115.4" y1="379.2" x2="115.4" y2="381.4" stroke="#1e1e1e" stroke-width="0.8"/>
<text x="119.2" y="388.8" font-size="8" text-anchor="end" transform="rotate(-45 119.2 388.8)">BAD</text>
<rect x="123.2" y="319.34" width="9.2" height="59.86" fill="#67a04a"/>
<rect x="123.8" y="319.94" width="8" height="59.26" fill="#78a85b"/>
<line x1="127.8" y1="319.34" x2="127.8" y2="306.2" stroke="#1e1e1e" stroke-width="0.8"/>
<line x1="126" y1="306.2" x2="129.6" y2="306.2" stroke="#1e1e1e" stroke-width="0.9"/>
<line x1="127.8" y1="379.2" x2="127.8" y2="381.4" stroke="#1e1e1e" stroke-width="0.8"/>
<text x="131.6" y="388.8" font-size="8" text-anchor="end" transform="rotate(-45 131.6 388.8)">MS1</text>
<rect x="135.6" y="306.2" width="9.2" height="73" fill="#5c355e"/>
<rect x="136.2" y="306.8" width="8" height="72.4" fill="#6c466c"/>
<line x1="140.2" y1="306.2" x2="140.2" y2="299.63" stroke="#1e1e1e" stroke-width="0.8"/>
<line x1="138.4" y1="299.63" x2="142" y2="299.63" stroke="#1e1e1e" stroke-width="0.9"/>
<line x1="140.2" y1="379.2" x2="140.2" y2="381.4" stroke="#1e1e1e" stroke-width="0.8"/>
<text x="144" y="388.8" font-size="8" text-anchor="end" transform="rotate(-45 144 388.8)">Alamethicin</text>
<line x1="249" y1="281.3" x2="249" y2="379.6" stroke="#1e1e1e" stroke-width="1.1"/>
<line x1="246.2" y1="379.1" x2="345" y2="379.1" stroke="#1e1e1e" stroke-width="1.1"/>
<line x1="246.2" y1="379.1" x2="249" y2="379.1" stroke="#1e1e1e" stroke-width="0.9"/>
<text x="243.6" y="381.5" font-size="7.8" text-anchor="end">0</text>
<line x1="246.2" y1="355.2" x2="249" y2="355.2" stroke="#1e1e1e" stroke-width="0.9"/>
<text x="243.6" y="357.6" font-size="7.8" text-anchor="end">1</text>
<line x1="246.2" y1="331.3" x2="249" y2="331.3" stroke="#1e1e1e" stroke-width="0.9"/>
<text x="243.6" y="333.7" font-size="7.8" text-anchor="end">2</text>
<line x1="246.2" y1="307.4" x2="249" y2="307.4" stroke="#1e1e1e" stroke-width="0.9"/>
<text x="243.6" y="309.8" font-size="7.8" text-anchor="end">3</text>
<line x1="246.2" y1="283.5" x2="249" y2="283.5" stroke="#1e1e1e" stroke-width="0.9"/>
<text x="243.6" y="285.9" font-size="7.8" text-anchor="end">4</text>
<line x1="249" y1="379.1" x2="249" y2="381.3" stroke="#1e1e1e" stroke-width="0.8"/>
<text x="249" y="391.9" font-size="7.8" text-anchor="middle">0</text>
<line x1="276.4" y1="379.1" x2="276.4" y2="381.3" stroke="#1e1e1e" stroke-width="0.8"/>
<text x="276.4" y="391.9" font-size="7.8" text-anchor="middle">2</text>
<line x1="303.8" y1="379.1" x2="303.8" y2="381.3" stroke="#1e1e1e" stroke-width="0.8"/>
<text x="303.8" y="391.9" font-size="7.8" text-anchor="middle">4</text>
<line x1="331.2" y1="379.1" x2="331.2" y2="381.3" stroke="#1e1e1e" stroke-width="0.8"/>
<text x="331.2" y="391.9" font-size="7.8" text-anchor="middle">6</text>
<text x="297" y="405" font-size="9.5" text-anchor="middle" textLength="14.8" lengthAdjust="spacingAndGlyphs">Day</text>
<text x="232.5" y="329.5" font-size="9" text-anchor="middle" textLength="94" lengthAdjust="spacingAndGlyphs" transform="rotate(-90 232.5 329.5)">% of hCD45/CD2+ cells</text>
<line x1="249" y1="346.84" x2="249" y2="370.74" stroke="#6b4569" stroke-width="0.8"/>
<line x1="247.4" y1="346.84" x2="250.6" y2="346.84" stroke="#6b4569" stroke-width="0.9"/>
<line x1="247.4" y1="370.74" x2="250.6" y2="370.74" stroke="#6b4569" stroke-width="0.9"/>
<line x1="249" y1="348.03" x2="249" y2="373.12" stroke="#a8253c" stroke-width="0.8"/>
<line x1="247.4" y1="348.03" x2="250.6" y2="348.03" stroke="#a8253c" stroke-width="0.9"/>
<line x1="247.4" y1="373.12" x2="250.6" y2="373.12" stroke="#a8253c" stroke-width="0.9"/>
<line x1="331.2" y1="354.48" x2="331.2" y2="357.59" stroke="#a8253c" stroke-width="0.8"/>
<line x1="329.6" y1="354.48" x2="332.8" y2="354.48" stroke="#a8253c" stroke-width="0.9"/>
<line x1="329.6" y1="357.59" x2="332.8" y2="357.59" stroke="#a8253c" stroke-width="0.9"/>
<line x1="249" y1="350.42" x2="249" y2="370.02" stroke="#3a5a8a" stroke-width="0.8"/>
<line x1="247.4" y1="350.42" x2="250.6" y2="350.42" stroke="#3a5a8a" stroke-width="0.9"/>
<line x1="247.4" y1="370.02" x2="250.6" y2="370.02" stroke="#3a5a8a" stroke-width="0.9"/>
<line x1="249" y1="343.97" x2="249" y2="362.37" stroke="#e0982c" stroke-width="0.8"/>
<line x1="247.4" y1="343.97" x2="250.6" y2="343.97" stroke="#e0982c" stroke-width="0.9"/>
<line x1="247.4" y1="362.37" x2="250.6" y2="362.37" stroke="#e0982c" stroke-width="0.9"/>
<line x1="331.2" y1="306.92" x2="331.2" y2="327.72" stroke="#e0982c" stroke-width="0.8"/>
<line x1="329.6" y1="306.92" x2="332.8" y2="306.92" stroke="#e0982c" stroke-width="0.9"/>
<line x1="329.6" y1="327.72" x2="332.8" y2="327.72" stroke="#e0982c" stroke-width="0.9"/>
<polyline points="249,360.46 331.2,376.23" fill="none" stroke="#6b4569" stroke-width="1.3" stroke-linejoin="miter"/>
<polyline points="249,360.46 331.2,356.16" fill="none" stroke="#a8253c" stroke-width="1.3" stroke-linejoin="miter"/>
<polyline points="249,365.24 331.2,316.96" fill="none" stroke="#3a5a8a" stroke-width="1.3" stroke-linejoin="miter"/>
<polyline points="249,353.77 331.2,316.96" fill="none" stroke="#e0982c" stroke-width="1.3" stroke-linejoin="miter"/>
<circle cx="249" cy="360.46" r="1.9" fill="#6b4569"/>
<circle cx="331.2" cy="376.23" r="1.9" fill="#6b4569"/>
<polygon points="249,358.27 251.09,362.07 246.91,362.07" fill="#a8253c"/>
<polygon points="331.2,353.97 333.29,357.77 329.11,357.77" fill="#a8253c"/>
<rect x="247.1" y="363.34" width="3.8" height="3.8" fill="#3a5a8a"/>
<rect x="329.3" y="315.06" width="3.8" height="3.8" fill="#3a5a8a"/>
<circle cx="249" cy="353.77" r="1.9" fill="#e0982c"/>
<rect x="329.3" y="315.06" width="3.8" height="3.8" fill="#e0982c"/>
<line x1="335.8" y1="316.9" x2="335.8" y2="356.8" stroke="#3a3a3a" stroke-width="1.05"/>
<circle cx="338.8" cy="335.4" r="1.1" fill="#333"/>
<circle cx="342.1" cy="335.4" r="1.1" fill="#333"/>
<line x1="345.7" y1="316.9" x2="345.7" y2="378.1" stroke="#3a3a3a" stroke-width="1.05"/>
<circle cx="349" cy="347.6" r="1.1" fill="#333"/>
<circle cx="352.3" cy="347.6" r="1.1" fill="#333"/>
<circle cx="355.6" cy="347.6" r="1.1" fill="#333"/>
<line x1="359.2" y1="287.1" x2="370.3" y2="287.1" stroke="#e0982c" stroke-width="1.7"/>
<text x="373.1" y="289.1" font-size="8" textLength="24.7" lengthAdjust="spacingAndGlyphs">Vehicle</text>
<line x1="359.2" y1="300.5" x2="370.3" y2="300.5" stroke="#3a5a8a" stroke-width="1.1"/>
<text x="373.1" y="302.5" font-size="8" textLength="19.8" lengthAdjust="spacingAndGlyphs">CHOP</text>
<line x1="359.2" y1="313.5" x2="370.3" y2="313.5" stroke="#a8253c" stroke-width="1.1"/>
<text x="373.1" y="315.5" font-size="8" textLength="31.4" lengthAdjust="spacingAndGlyphs">AZD5991</text>
<line x1="359.2" y1="326.5" x2="370.3" y2="326.5" stroke="#6b4569" stroke-width="1.1"/>
<text x="373.1" y="328.5" font-size="8" textLength="56.8" lengthAdjust="spacingAndGlyphs">AZD5991+CHOP</text>
<rect x="364" y="285.2" width="1.6" height="1.2" fill="#e0982c"/>
<line x1="59.8" y1="436.6" x2="59.8" y2="524.2" stroke="#1e1e1e" stroke-width="1.1"/>
<line x1="57" y1="523.7" x2="146.3" y2="523.7" stroke="#1e1e1e" stroke-width="1.1"/>
<line x1="57" y1="523.7" x2="59.8" y2="523.7" stroke="#1e1e1e" stroke-width="0.9"/>
<text x="54.2" y="526.1" font-size="7.8" text-anchor="end">0.0</text>
<line x1="57" y1="487.5" x2="59.8" y2="487.5" stroke="#1e1e1e" stroke-width="0.9"/>
<text x="54.2" y="489.9" font-size="7.8" text-anchor="end">0.5</text>
<line x1="57" y1="451.3" x2="59.8" y2="451.3" stroke="#1e1e1e" stroke-width="0.9"/>
<text x="54.2" y="453.7" font-size="7.8" text-anchor="end">1.0</text>
<text x="37.5" y="480" font-size="9" text-anchor="middle" textLength="100" lengthAdjust="spacingAndGlyphs" transform="rotate(-90 37.5 480)">rel. cytochrome c release</text>
<rect x="61.1" y="523.41" width="6.6" height="0.29" fill="#cc8a30"/>
<line x1="64.4" y1="523.41" x2="64.4" y2="522.54" stroke="#1e1e1e" stroke-width="0.8"/>
<line x1="62.8" y1="522.54" x2="66" y2="522.54" stroke="#1e1e1e" stroke-width="0.9"/>
<rect x="69.7" y="518.99" width="6.6" height="4.71" fill="#3b557c"/>
<rect x="70.3" y="519.59" width="5.4" height="4.11" fill="#4a6386"/>
<line x1="73" y1="518.99" x2="73" y2="516.82" stroke="#1e1e1e" stroke-width="0.8"/>
<line x1="71.4" y1="516.82" x2="74.6" y2="516.82" stroke="#1e1e1e" stroke-width="0.9"/>
<line x1="68.7" y1="523.7" x2="68.7" y2="525.9" stroke="#1e1e1e" stroke-width="0.8"/>
<text x="72.5" y="533.8" font-size="8" text-anchor="end" transform="rotate(-45 72.5 533.8)">DMSO</text>
<rect x="83.9" y="509.22" width="6.6" height="14.48" fill="#cc8a30"/>
<rect x="84.5" y="509.82" width="5.4" height="13.88" fill="#d4943e"/>
<line x1="87.2" y1="509.22" x2="87.2" y2="508.5" stroke="#1e1e1e" stroke-width="0.8"/>
<line x1="85.6" y1="508.5" x2="88.8" y2="508.5" stroke="#1e1e1e" stroke-width="0.9"/>
<rect x="92.5" y="490.03" width="6.6" height="33.67" fill="#3b557c"/>
<rect x="93.1" y="490.63" width="5.4" height="33.07" fill="#4a6386"/>
<line x1="95.8" y1="490.03" x2="95.8" y2="488.22" stroke="#1e1e1e" stroke-width="0.8"/>
<line x1="94.2" y1="488.22" x2="97.4" y2="488.22" stroke="#1e1e1e" stroke-width="0.9"/>
<line x1="91.5" y1="523.7" x2="91.5" y2="525.9" stroke="#1e1e1e" stroke-width="0.8"/>
<text x="95.3" y="533.8" font-size="8" text-anchor="end" transform="rotate(-45 95.3 533.8)">MS11μM</text>
<rect x="106.6" y="491.12" width="6.6" height="32.58" fill="#cc8a30"/>
<rect x="107.2" y="491.72" width="5.4" height="31.98" fill="#d4943e"/>
<line x1="109.9" y1="491.12" x2="109.9" y2="487.86" stroke="#1e1e1e" stroke-width="0.8"/>
<line x1="108.3" y1="487.86" x2="111.5" y2="487.86" stroke="#1e1e1e" stroke-width="0.9"/>
<rect x="115.2" y="468.68" width="6.6" height="55.02" fill="#3b557c"/>
<rect x="115.8" y="469.28" width="5.4" height="54.42" fill="#4a6386"/>
<line x1="118.5" y1="468.68" x2="118.5" y2="463.97" stroke="#1e1e1e" stroke-width="0.8"/>
<line x1="116.9" y1="463.97" x2="120.1" y2="463.97" stroke="#1e1e1e" stroke-width="0.9"/>
<line x1="114.2" y1="523.7" x2="114.2" y2="525.9" stroke="#1e1e1e" stroke-width="0.8"/>
<text x="118" y="533.8" font-size="8" text-anchor="end" transform="rotate(-45 118 533.8)">AZD5991</text>
<rect x="129.1" y="451.3" width="6.6" height="72.4" fill="#cc8a30"/>
<rect x="129.7" y="451.9" width="5.4" height="71.8" fill="#d4943e"/>
<line x1="132.4" y1="451.3" x2="132.4" y2="451.3" stroke="#1e1e1e" stroke-width="0.8"/>
<line x1="130.8" y1="451.3" x2="134" y2="451.3" stroke="#1e1e1e" stroke-width="0.9"/>
<rect x="137.7" y="451.3" width="6.6" height="72.4" fill="#3b557c"/>
<rect x="138.3" y="451.9" width="5.4" height="71.8" fill="#4a6386"/>
<line x1="141" y1="451.3" x2="141" y2="443.34" stroke="#1e1e1e" stroke-width="0.8"/>
<line x1="139.4" y1="443.34" x2="142.6" y2="443.34" stroke="#1e1e1e" stroke-width="0.9"/>
<line x1="136.7" y1="523.7" x2="136.7" y2="525.9" stroke="#1e1e1e" stroke-width="0.8"/>
<text x="140.5" y="533.8" font-size="8" text-anchor="end" transform="rotate(-45 140.5 533.8)">Alamethicin</text>
<line x1="87.1" y1="477.5" x2="95.8" y2="477.5" stroke="#2a2a2a" stroke-width="0.95"/>
<circle cx="89.8" cy="473.7" r="1.1" fill="#333"/>
<circle cx="93.1" cy="473.7" r="1.1" fill="#333"/>
<line x1="110.2" y1="448.5" x2="118.8" y2="448.5" stroke="#2a2a2a" stroke-width="0.95"/>
<circle cx="112.85" cy="444.7" r="1.1" fill="#333"/>
<circle cx="116.15" cy="444.7" r="1.1" fill="#333"/>
<rect x="153.3" y="441" width="8" height="3.7" fill="#d4943e"/>
<rect x="153.3" y="452.8" width="8" height="3.6" fill="#4a6386"/>
<text x="164.6" y="445.2" font-size="7.5" textLength="22.7" lengthAdjust="spacingAndGlyphs">Vehicle</text>
<text x="164.6" y="456.8" font-size="7.5" textLength="18.7" lengthAdjust="spacingAndGlyphs">CHOP</text>
<polygon points="300,443.8 300.71,443.8 301.41,443.8 302.12,443.81 302.82,443.82 303.53,443.83 304.24,443.84 304.94,443.85 305.65,443.87 306.35,443.89 307.06,443.91 307.76,443.93 308.47,443.95 309.18,443.97 309.88,444 310.59,444.03 311.29,444.06 312,444.09 312.71,444.12 313.41,444.15 314.12,444.19 314.82,444.22 315.53,444.26 316.24,444.3 316.94,444.34 317.65,444.38 318.35,444.42 319.06,444.47 319.76,444.51 320.47,444.56 321.18,444.62 321.88,444.69 322.59,444.78 323.29,444.87 324,444.98 324.71,445.1 325.41,445.23 326.12,445.38 326.82,445.58 327.53,445.86 328.24,446.21 328.94,446.63 329.65,447.09 330.35,447.6 331.06,448.13 331.76,448.68 332.47,449.22 333.18,449.77 333.88,450.36 334.59,450.98 335.29,451.64 336,452.33 336.71,453.07 337.41,453.85 338.12,454.67 338.82,455.52 339.53,456.43 340.24,457.45 340.94,458.57 341.65,459.76 342.35,461.01 343.06,462.29 343.76,463.59 344.47,464.88 345.18,466.21 345.88,467.57 346.59,468.98 347.29,470.41 348,471.88 348.71,473.37 349.41,474.89 350.12,476.47 350.82,478.08 351.53,479.73 352.24,481.4 352.94,483.09 353.65,484.79 354.35,486.5 355.06,488.25 355.76,490.01 356.47,491.78 357.18,493.54 357.88,495.28 358.59,497 359.29,498.72 360,500.45 360.71,502.22 361.41,504.07 362.12,505.95 362.82,507.79 363.53,509.51 364.24,511.11 364.94,512.69 365.65,514.18 366.35,515.5 367.06,516.58 367.76,517.52 368.47,518.42 369.18,519.24 369.88,519.98 370.59,520.6 371.29,521.1 372,521.44 372.71,521.7 373.41,521.94 374.12,522.15 374.82,522.33 375.53,522.5 376.24,522.64 376.94,522.77 377.65,522.88 378.35,522.98 379.06,523.07 379.76,523.16 380.47,523.24 381.18,523.32 381.88,523.38 382.59,523.44 383.29,523.48 384,523.5 365,523.5 364.45,523.49 363.91,523.46 363.36,523.42 362.82,523.35 362.27,523.28 361.72,523.19 361.18,523.1 360.63,522.99 360.08,522.88 359.54,522.76 358.99,522.64 358.45,522.52 357.9,522.37 357.35,522.19 356.81,521.99 356.26,521.76 355.71,521.51 355.17,521.23 354.62,520.93 354.08,520.61 353.53,520.25 352.98,519.81 352.44,519.29 351.89,518.71 351.34,518.06 350.8,517.36 350.25,516.62 349.71,515.85 349.16,515.04 348.61,514.18 348.07,513.19 347.52,512.09 346.97,510.92 346.43,509.71 345.88,508.48 345.34,507.25 344.79,505.96 344.24,504.63 343.7,503.25 343.15,501.84 342.61,500.38 342.06,498.88 341.51,497.31 340.97,495.68 340.42,494.02 339.87,492.35 339.33,490.69 338.78,489.03 338.24,487.36 337.69,485.67 337.14,483.99 336.6,482.31 336.05,480.65 335.5,478.99 334.96,477.32 334.41,475.66 333.87,474.02 333.32,472.43 332.77,470.9 332.23,469.42 331.68,467.96 331.13,466.54 330.59,465.17 330.04,463.88 329.5,462.7 328.95,461.6 328.4,460.54 327.86,459.52 327.31,458.55 326.76,457.62 326.22,456.73 325.67,455.9 325.13,455.12 324.58,454.4 324.03,453.72 323.49,453.07 322.94,452.45 322.39,451.85 321.85,451.29 321.3,450.77 320.76,450.28 320.21,449.84 319.66,449.44 319.12,449.08 318.57,448.74 318.03,448.42 317.48,448.11 316.93,447.82 316.39,447.55 315.84,447.29 315.29,447.04 314.75,446.81 314.2,446.6 313.66,446.39 313.11,446.2 312.56,446.02 312.02,445.84 311.47,445.67 310.92,445.51 310.38,445.35 309.83,445.2 309.29,445.06 308.74,444.93 308.19,444.81 307.65,444.7 307.1,444.6 306.55,444.51 306.01,444.43 305.46,444.35 304.92,444.27 304.37,444.19 303.82,444.12 303.28,444.06 302.73,444 302.18,443.94 301.64,443.89 301.09,443.85 300.55,443.82 300,443.8" fill="#e1eacf"/>
<polyline points="249,443.8 250.1,443.8 251.2,443.8 252.3,443.8 253.4,443.8 254.5,443.8 255.61,443.8 256.71,443.81 257.81,443.81 258.91,443.81 260.01,443.81 261.11,443.82 262.21,443.82 263.31,443.82 264.41,443.83 265.51,443.83 266.61,443.84 267.71,443.84 268.82,443.85 269.92,443.85 271.02,443.86 272.12,443.87 273.22,443.87 274.32,443.88 275.42,443.89 276.52,443.9 277.62,443.91 278.72,443.92 279.82,443.93 280.92,443.94 282.03,443.95 283.13,443.96 284.23,443.97 285.33,443.98 286.43,444 287.53,444.01 288.63,444.02 289.73,444.04 290.83,444.05 291.93,444.07 293.03,444.08 294.13,444.1 295.24,444.12 296.34,444.14 297.44,444.15 298.54,444.17 299.64,444.19 300.74,444.22 301.84,444.29 302.94,444.38 304.04,444.51 305.14,444.65 306.24,444.81 307.34,444.99 308.45,445.17 309.55,445.36 310.65,445.55 311.75,445.76 312.85,446 313.95,446.28 315.05,446.59 316.15,446.95 317.25,447.39 318.35,447.97 319.45,448.64 320.55,449.39 321.66,450.19 322.76,451 323.86,451.81 324.96,452.68 326.06,453.6 327.16,454.58 328.26,455.63 329.36,456.76 330.46,458 331.56,459.36 332.66,460.83 333.76,462.39 334.87,464.04 335.97,465.75 337.07,467.55 338.17,469.49 339.27,471.55 340.37,473.72 341.47,476 342.57,478.48 343.67,481.08 344.77,483.73 345.87,486.47 346.97,489.24 348.08,491.98 349.18,494.7 350.28,497.44 351.38,500.26 352.48,503.21 353.58,505.92 354.68,508.15 355.78,510.2 356.88,512.06 357.98,513.71 359.08,515.15 360.18,516.46 361.29,517.64 362.39,518.68 363.49,519.55 364.59,520.29 365.69,520.96 366.79,521.54 367.89,521.99 368.99,522.29 370.09,522.52 371.19,522.7 372.29,522.85 373.39,522.98 374.5,523.09 375.6,523.2 376.7,523.3 377.8,523.39 378.9,523.45 380,523.5" fill="none" stroke="#5aa03c" stroke-width="1.3" stroke-linejoin="miter"/>
<line x1="248.9" y1="441.5" x2="248.9" y2="524.1" stroke="#1e1e1e" stroke-width="1.1"/>
<line x1="245.8" y1="523.6" x2="383" y2="523.6" stroke="#1e1e1e" stroke-width="1.1"/>
<line x1="245.8" y1="523.6" x2="248.9" y2="523.6" stroke="#1e1e1e" stroke-width="0.9"/>
<text x="243.8" y="526" font-size="7.8" text-anchor="end">0</text>
<line x1="245.8" y1="507.6" x2="248.9" y2="507.6" stroke="#1e1e1e" stroke-width="0.9"/>
<text x="243.8" y="510" font-size="7.8" text-anchor="end" textLength="7.9" lengthAdjust="spacingAndGlyphs">20</text>
<line x1="245.8" y1="491.6" x2="248.9" y2="491.6" stroke="#1e1e1e" stroke-width="0.9"/>
<text x="243.8" y="494" font-size="7.8" text-anchor="end" textLength="7.9" lengthAdjust="spacingAndGlyphs">40</text>
<line x1="245.8" y1="475.6" x2="248.9" y2="475.6" stroke="#1e1e1e" stroke-width="0.9"/>
<text x="243.8" y="478" font-size="7.8" text-anchor="end" textLength="7.9" lengthAdjust="spacingAndGlyphs">60</text>
<line x1="245.8" y1="459.6" x2="248.9" y2="459.6" stroke="#1e1e1e" stroke-width="0.9"/>
<text x="243.8" y="462" font-size="7.8" text-anchor="end" textLength="7.9" lengthAdjust="spacingAndGlyphs">80</text>
<line x1="245.8" y1="443.6" x2="248.9" y2="443.6" stroke="#1e1e1e" stroke-width="0.9"/>
<text x="243.8" y="446" font-size="7.8" text-anchor="end" textLength="11.85" lengthAdjust="spacingAndGlyphs">100</text>
<line x1="248.9" y1="523.6" x2="248.9" y2="525.8" stroke="#1e1e1e" stroke-width="0.8"/>
<text x="248.9" y="536.8" font-size="7.8" text-anchor="middle">0</text>
<line x1="281.73" y1="523.6" x2="281.73" y2="525.8" stroke="#1e1e1e" stroke-width="0.8"/>
<text x="281.73" y="536.8" font-size="7.8" text-anchor="middle">5</text>
<line x1="314.55" y1="523.6" x2="314.55" y2="525.8" stroke="#1e1e1e" stroke-width="0.8"/>
<text x="314.55" y="536.8" font-size="7.8" text-anchor="middle" textLength="7.9" lengthAdjust="spacingAndGlyphs">10</text>
<line x1="347.38" y1="523.6" x2="347.38" y2="525.8" stroke="#1e1e1e" stroke-width="0.8"/>
<text x="347.38" y="536.8" font-size="7.8" text-anchor="middle" textLength="7.9" lengthAdjust="spacingAndGlyphs">15</text>
<line x1="380.2" y1="523.6" x2="380.2" y2="525.8" stroke="#1e1e1e" stroke-width="0.8"/>
<text x="380.2" y="536.8" font-size="7.8" text-anchor="middle" textLength="7.9" lengthAdjust="spacingAndGlyphs">20</text>
<text x="316.2" y="549.5" font-size="9" text-anchor="middle" textLength="72" lengthAdjust="spacingAndGlyphs">Days of treatment</text>
<text x="224" y="482.4" font-size="9" text-anchor="middle" textLength="64" lengthAdjust="spacingAndGlyphs" transform="rotate(-90 224 482.4)">Percent survival</text>
<polyline points="248.9,443.6 314.55,443.6 314.55,456.96 321.12,456.96 321.12,483.6 327.68,483.6 327.68,496.96 340.81,496.96 340.81,523.6" fill="none" stroke="#e0982c" stroke-width="1.3" stroke-linejoin="miter"/>
<polyline points="248.9,443.6 321.12,443.6 321.12,496.96 327.68,496.96 327.68,510.24 334.25,510.24 334.25,523.6" fill="none" stroke="#3a5a8a" stroke-width="1.3" stroke-linejoin="miter"/>
<polyline points="248.9,443.6 327.68,443.6 327.68,456.96 334.25,456.96 334.25,470.24 340.81,470.24 340.81,523.6" fill="none" stroke="#a8253c" stroke-width="1.3" stroke-linejoin="miter"/>
<polyline points="248.9,443.6 340.81,443.6 340.81,456.96 347.38,456.96 347.38,470.24 367.07,470.24 367.07,496.96 373.63,496.96 373.63,523.6" fill="none" stroke="#6b4569" stroke-width="1.3" stroke-linejoin="miter"/>
<line x1="383.6" y1="443.1" x2="400.5" y2="443.1" stroke="#e0982c" stroke-width="1.3"/>
<text x="403.5" y="445.55" font-size="7.9" textLength="23" lengthAdjust="spacingAndGlyphs">Vehicle</text>
<line x1="383.6" y1="455.5" x2="400.5" y2="455.5" stroke="#3a5a8a" stroke-width="1.3"/>
<text x="403.5" y="457.95" font-size="7.9" textLength="18.8" lengthAdjust="spacingAndGlyphs">CHOP</text>
<line x1="383.6" y1="468.1" x2="400.5" y2="468.1" stroke="#a8253c" stroke-width="1.3"/>
<text x="403.5" y="470.55" font-size="7.9" textLength="29" lengthAdjust="spacingAndGlyphs">AZD5991</text>
<line x1="383.6" y1="480.2" x2="400.5" y2="480.2" stroke="#6b4569" stroke-width="1.3"/>
<text x="403.5" y="482.65" font-size="7.9" textLength="53.3" lengthAdjust="spacingAndGlyphs">AZD5991+CHOP</text>
<line x1="383.6" y1="492.3" x2="400.5" y2="492.3" stroke="#5aa03c" stroke-width="1.3"/>
<text x="403.5" y="494.75" font-size="7.9" textLength="98.5" lengthAdjust="spacingAndGlyphs">Model: sum of survival benefits</text>
<line x1="474" y1="441.7" x2="474" y2="483" stroke="#3a3a3a" stroke-width="1.05"/>
<circle cx="477.5" cy="461.5" r="1.1" fill="#333"/>
<circle cx="480.8" cy="461.5" r="1.1" fill="#333"/>
<rect x="0" y="1" width="520" height="1" fill="#b0b0b0"/>
<rect x="1" y="0" width="1" height="573" fill="#8a8a8a"/>
<rect x="518" y="0" width="1" height="573" fill="#b0b0b0"/>
<rect x="0" y="571" width="520" height="1" fill="#c4c4c4"/>
<rect x="0" y="0" width="520" height="1" fill="#484848"/>
<rect x="0" y="0" width="1" height="573" fill="#4a4a4a"/>
<rect x="519" y="0" width="1" height="573" fill="#000"/>
<rect x="0" y="572" width="520" height="1" fill="#000"/>
</svg></body></html>
